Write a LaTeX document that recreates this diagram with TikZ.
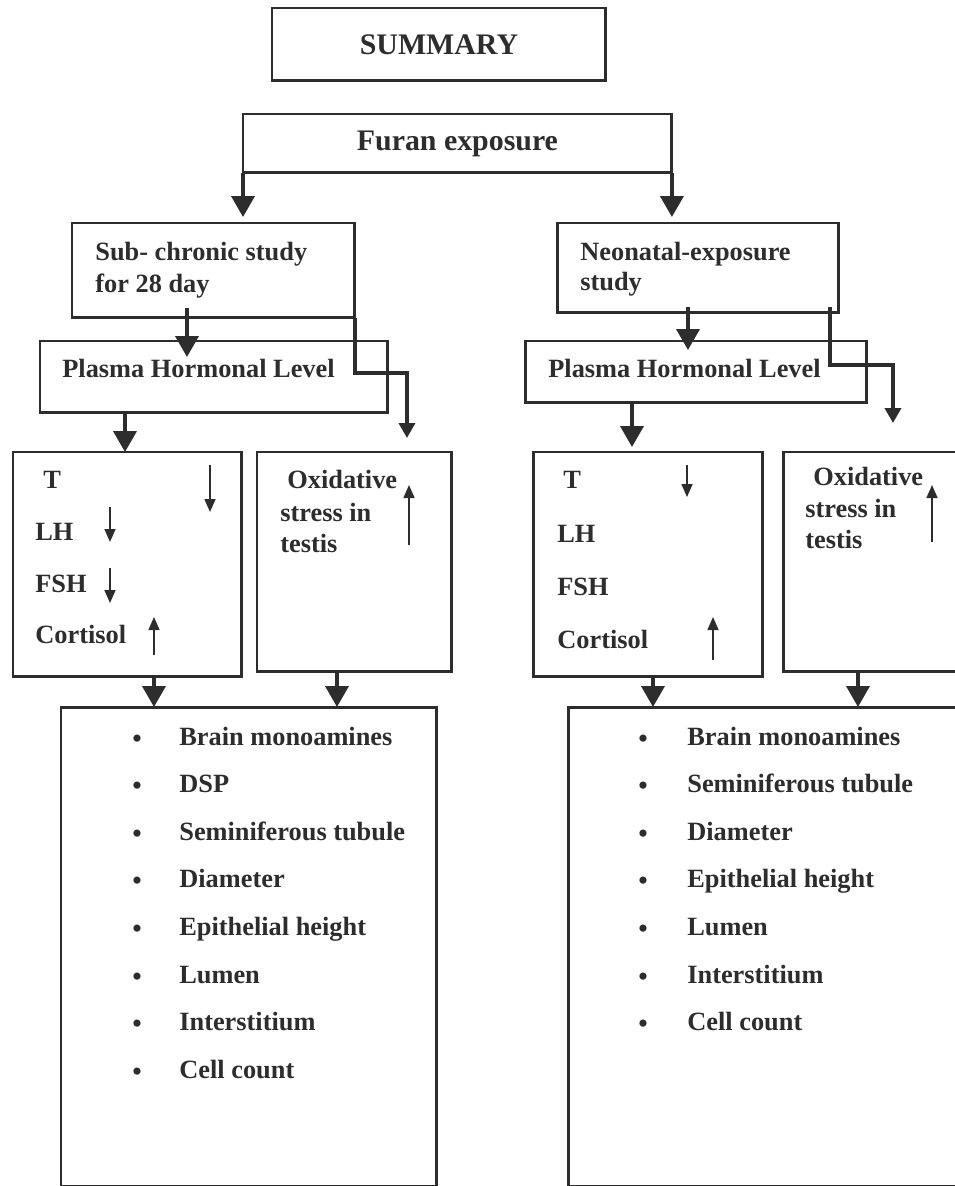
\documentclass[tikz,border=0pt]{standalone}
\usepackage{fontspec}
\setmainfont{Liberation Serif}
\usepackage{xcolor}
\definecolor{sumInk}{RGB}{45, 45, 45}
\usepackage{tikz}
\usetikzlibrary{
    arrows.meta,
    positioning,
    calc
}

\begin{document}
\begin{tikzpicture}[
    x=0.02cm, y=-0.02cm,
    frameBox/.style={
        rectangle, draw=sumInk, line width=1.7pt,
        anchor=north west, inner sep=0pt, outer sep=0pt,
        text=sumInk
    },
    titleText/.style={
        font=\fontsize{17}{20}\selectfont\bfseries
    },
    bodyText/.style={
        font=\fontsize{15}{18}\selectfont\bfseries, text=sumInk,
        anchor=base west, inner sep=0pt
    },
    dotMark/.style={
        font=\fontsize{17}{20}\selectfont, text=sumInk,
        anchor=base, inner sep=0pt
    },
    bigArrow/.style={
        -{Triangle[width=0.46cm, length=0.42cm]}, line width=2.2pt, draw=sumInk
    },
    elbowArrow/.style={
        -{Triangle[width=0.32cm, length=0.3cm]}, line width=2pt, draw=sumInk
    },
    trendArrow/.style={
        -{Triangle[width=0.22cm, length=0.26cm]}, line width=0.9pt, draw=sumInk
    }
]
    \useasboundingbox (0,0) rectangle (954,1186);

    % Boxes
    \node[frameBox, titleText, minimum width=6.68cm, minimum height=1.46cm] (summary) at (272, 8) {SUMMARY};
    \node[frameBox, titleText, minimum width=8.58cm, minimum height=1.18cm] (furan) at (243, 114) {Furan exposure};

    \node[frameBox, minimum width=5.66cm, minimum height=1.9cm] (sub) at (72, 223) {};
    \node[frameBox, minimum width=5.64cm, minimum height=1.8cm] (neo) at (557, 223) {};

    \node[frameBox, minimum width=6.96cm, minimum height=1.44cm] (plasmaL) at (40, 341) {};
    \node[frameBox, minimum width=6.84cm, minimum height=1.24cm] (plasmaR) at (525, 341) {};

    \node[frameBox, minimum width=4.58cm, minimum height=4.5cm] (hormL) at (13, 452) {};
    \node[frameBox, minimum width=3.9cm, minimum height=4.4cm] (oxL) at (257, 452) {};
    \node[frameBox, minimum width=4.6cm, minimum height=4.5cm] (hormR) at (533, 452) {};
    \node[frameBox, minimum width=3.84cm, minimum height=4.4cm] (oxR) at (783, 452) {};

    \node[frameBox, minimum width=7.52cm, minimum height=9.6cm] (endL) at (61, 707) {};
    \node[frameBox, minimum width=8.14cm, minimum height=9.6cm] (endR) at (568, 707) {};

    % Texts
    \node[bodyText] (subTxtA) at (95, 260) {Sub- chronic study};
    \node[bodyText] (subTxtB) at (95, 292) {for 28 day};
    \node[bodyText] (neoTxtA) at (580, 260) {Neonatal-exposure};
    \node[bodyText] (neoTxtB) at (580, 290) {study};

    \node[bodyText] (plasmaLTxt) at (62, 377) {Plasma Hormonal Level};
    \node[bodyText] (plasmaRTxt) at (548, 377) {Plasma Hormonal Level};

    \node[bodyText] (tL) at (43, 488) {T};
    \node[bodyText] (lhL) at (35, 540) {LH};
    \node[bodyText] (fshL) at (35, 592) {FSH};
    \node[bodyText] (cortL) at (35, 643) {Cortisol};

    \node[bodyText] (oxLTxtA) at (287, 488) {Oxidative};
    \node[bodyText] (oxLTxtB) at (280, 521) {stress in};
    \node[bodyText] (oxLTxtC) at (280, 552) {testis};

    \node[bodyText] (tR) at (563, 488) {T};
    \node[bodyText] (lhR) at (557, 542) {LH};
    \node[bodyText] (fshR) at (557, 595) {FSH};
    \node[bodyText] (cortR) at (557, 648) {Cortisol};

    \node[bodyText] (oxRTxtA) at (813, 485) {Oxidative};
    \node[bodyText] (oxRTxtB) at (805, 517) {stress in};
    \node[bodyText] (oxRTxtC) at (805, 548) {testis};

    % Up / down marks
    \draw[trendArrow] (210, 465) -- (210, 512);
    \draw[trendArrow] (110, 507) -- (110, 542);
    \draw[trendArrow] (110, 568) -- (110, 603);
    \draw[trendArrow] (154, 655) -- (154, 617);
    \draw[trendArrow] (409, 545) -- (409, 485);
    \draw[trendArrow] (687, 465) -- (687, 497);
    \draw[trendArrow] (713, 660) -- (713, 617);
    \draw[trendArrow] (932, 542) -- (932, 485);

    % Bullet lists
    \foreach \txt [count=\i] in {Brain monoamines, DSP, Seminiferous tubule, Diameter, Epithelial height, Lumen, Interstitium, Cell count} {
        \node[dotMark] (lDot\i) at (137, {748+47.6*(\i-1)}) {\textbullet};
        \node[bodyText] (lItem\i) at (179, {745+47.6*(\i-1)}) {\txt};
    }
    \foreach \txt [count=\i] in {Brain monoamines, Seminiferous tubule, Diameter, Epithelial height, Lumen, Interstitium, Cell count} {
        \node[dotMark] (rDot\i) at (643, {748+47.6*(\i-1)}) {\textbullet};
        \node[bodyText] (rItem\i) at (687, {745+47.6*(\i-1)}) {\txt};
    }

    % Connections
    \draw[bigArrow, shorten >=0.12cm] (furan.south west) -- (furan.south west |- sub.north);
    \draw[bigArrow, shorten >=0.12cm] (furan.south east) -- (furan.south east |- neo.north);

    \draw[bigArrow, shorten <=-0.2cm, shorten >=-0.32cm] ([xshift=-0.53cm]sub.south) -- ([xshift=-0.53cm]sub.south |- plasmaL.north);
    \draw[elbowArrow, shorten >=0.28cm] (sub.south east) -- ++(0, 55) -| ([xshift=1.05cm]oxL.north);

    \draw[bigArrow, shorten <=-0.12cm, shorten >=-0.18cm] ([xshift=-0.2cm]neo.south) -- ([xshift=-0.2cm]neo.south |- plasmaR.north);
    \draw[elbowArrow, shorten >=0.58cm] ([xshift=-0.18cm, yshift=0.12cm]neo.south east) -- ++(0, 58) -| ([xshift=2.2cm]oxR.north west);

    \draw[bigArrow] ([xshift=-1.78cm]plasmaL.south) -- ([xshift=-1.78cm]plasmaL.south |- hormL.north);
    \draw[bigArrow, shorten >=0.1cm] ([xshift=-1.28cm]plasmaR.south) -- ([xshift=-1.28cm]plasmaR.south |- hormR.north);

    \draw[bigArrow] ([xshift=0.53cm]hormL.south) -- ([xshift=0.53cm]hormL.south |- endL.north);
    \draw[bigArrow] ([xshift=-0.35cm]oxL.south) -- ([xshift=-0.35cm]oxL.south |- endL.north);
    \draw[bigArrow] ([xshift=0.1cm]hormR.south) -- ([xshift=0.1cm]hormR.south |- endR.north);
    \draw[bigArrow] ([xshift=1.5cm]oxR.south west) -- ([xshift=1.5cm]oxR.south west |- endR.north);

\end{tikzpicture}
\end{document}
